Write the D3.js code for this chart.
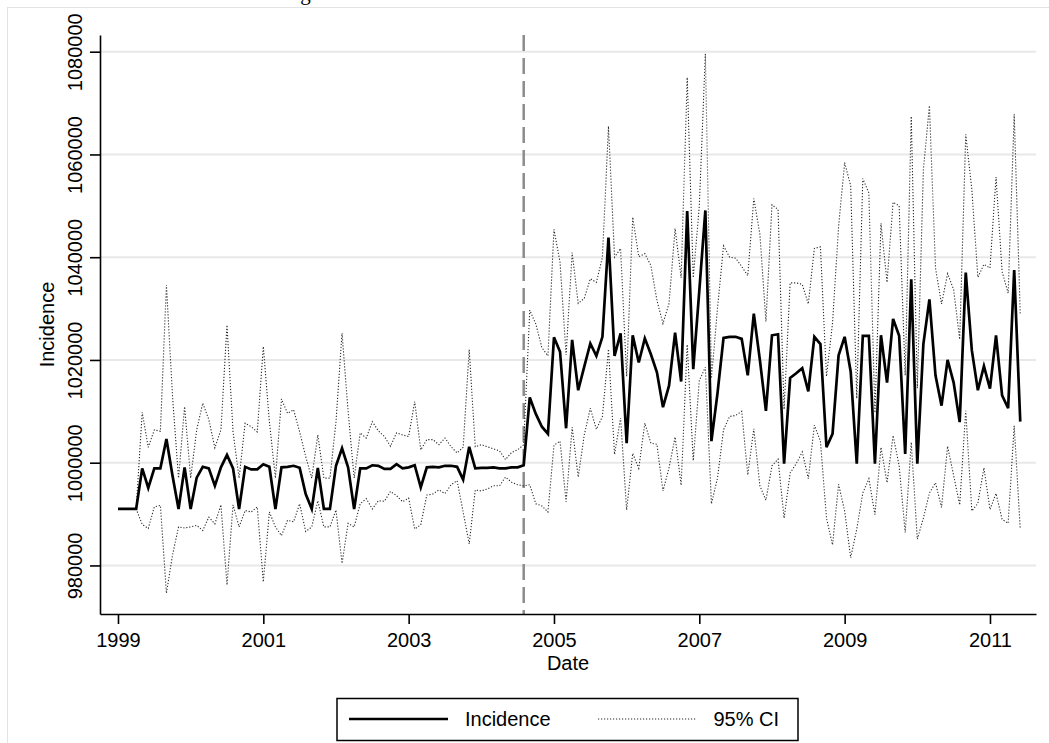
<!DOCTYPE html>
<html>
<head>
<meta charset="utf-8">
<script src="https://cdn.jsdelivr.net/npm/d3@7"></script>
<style>
  body { margin: 0; background: #fff; }
  svg { display: block; }
  svg text { font-family: "Liberation Sans", Arial, sans-serif; fill: #000; }
</style>
</head>
<body>
<div id="wrapper"></div>
<script>
// monthly series, Jan 1999 .. Jun 2011
const startYear = 1999
const interventionMonth = 67   // Aug 2004

const incidence = [
  991000, 991000, 991000, 991000, 998900, 995100, 998900, 998900, 1004600, 997500,
  991000, 999100, 991000, 997100, 999200, 998900, 995500, 999100, 1001500, 998900,
  991000, 999200, 998700, 998700, 999700, 999200, 991000, 999100, 999200, 999400,
  999000, 993900, 991000, 999000, 991000, 991000, 999400, 1002800, 999100, 991000,
  998900, 998900, 999500, 999400, 998800, 998800, 999700, 998900, 999100, 999500,
  995200, 999100, 999200, 999100, 999400, 999400, 999200, 996700, 1003100, 998900,
  999000, 999000, 999100, 998900, 998900, 999100, 999100, 999500, 1012700, 1009500,
  1007000, 1005600, 1024400, 1021600, 1006700, 1023900, 1014100, 1018700, 1023200, 1020800,
  1024500, 1043800, 1020800, 1025200, 1003800, 1024800, 1019500, 1024200, 1021100, 1017600,
  1010800, 1015000, 1025300, 1015800, 1049000, 1018200, 1033500, 1049100, 1004200, 1013500,
  1024300, 1024500, 1024500, 1024100, 1017000, 1029000, 1020000, 1010100, 1024800, 1025000,
  999800, 1016500, 1017400, 1018400, 1013900, 1024500, 1023100, 1003000, 1005600, 1020900,
  1024500, 1017700, 999800, 1024700, 1024700, 999800, 1024800, 1015600, 1028000, 1024700,
  1001700, 1035700, 999800, 1023100, 1031800, 1017000, 1011100, 1020000, 1015600, 1007900,
  1037000, 1021900, 1014100, 1018800, 1014400, 1024800, 1013100, 1010600, 1037500, 1008000
]

const ciUpper = [
  991000, 991000, 991000, 991000, 1009800, 1003000, 1006400, 1006100, 1034600, 1013000,
  997000, 1010900, 997000, 1006400, 1011600, 1008400, 1002900, 1006400, 1026800, 1006000,
  997000, 1007700, 1007000, 1006000, 1022600, 1008000, 997000, 1012400, 1009600, 1010300,
  1006000, 1001200, 997000, 1005400, 997000, 997000, 1008000, 1025200, 1010000, 997000,
  1005800, 1004800, 1008000, 1006200, 1005100, 1003200, 1005800, 1005400, 1005100, 1011900,
  1002500, 1004500, 1004500, 1003500, 1004800, 1003100, 1001900, 1003000, 1022000, 1003100,
  1003500, 1003100, 1002700, 1002300, 1000600, 1002000, 1002500, 1003500, 1029700, 1027000,
  1022400, 1020800, 1045400, 1039000, 1021000, 1040900, 1031000, 1032000, 1035800, 1035100,
  1040000, 1065500, 1040000, 1041700, 1016800, 1047800, 1040100, 1040700, 1038400, 1031600,
  1027100, 1031000, 1045600, 1036000, 1075000, 1036000, 1050000, 1079600, 1016400, 1030000,
  1042200, 1040000, 1039800, 1038200, 1036400, 1051400, 1044500, 1027500, 1050200, 1049300,
  1010400, 1035000, 1035000, 1034700, 1030900, 1041700, 1042000, 1016800, 1027200, 1046000,
  1058400, 1053900, 1012500, 1055300, 1052500, 1009700, 1046600, 1035100, 1050700, 1050000,
  1017000, 1067400, 1014500, 1057000, 1069500, 1037900, 1030900, 1036800, 1033700, 1024000,
  1063900, 1053200, 1036100, 1038600, 1037900, 1055600, 1037200, 1033000, 1067800, 1028900
]

const ciLower = [
  991000, 991000, 991000, 991000, 988000, 987200, 991400, 991700, 974600, 982000,
  987500, 987300, 987500, 987800, 986800, 989400, 988100, 991800, 976200, 991800,
  987500, 990700, 990400, 991400, 976800, 990400, 987500, 985800, 988800, 988500,
  992000, 986600, 987500, 992600, 987500, 987500, 990800, 980400, 988200, 987500,
  992000, 993000, 991000, 992600, 992500, 994400, 993600, 992400, 993100, 987100,
  987900, 993700, 993900, 994700, 994000, 995700, 996500, 990400, 984200, 994700,
  994500, 994900, 995500, 995500, 997200, 996200, 995700, 995500, 995700, 992000,
  991600, 990400, 1003400, 1004200, 992400, 1006900, 997200, 1005400, 1010600, 1006500,
  1009000, 1022100, 1001600, 1008700, 990800, 1001800, 998900, 1007700, 1003800, 1003600,
  994500, 999000, 1005000, 995600, 1023000, 1000400, 1016000, 1018600, 992000, 997000,
  1006400, 1009000, 1009200, 1010000, 997600, 1006600, 995500, 992700, 999400, 1000700,
  989200, 998000, 999800, 1002100, 996900, 1007300, 1004200, 989200, 984000, 995800,
  990600, 981500, 987100, 994100, 996900, 989900, 1003000, 996100, 1005300, 999400,
  986400, 1004000, 985100, 989200, 994100, 996100, 991300, 1003200, 997500, 991800,
  1010100, 990600, 992100, 999000, 990900, 994000, 989000, 988200, 1007200, 987100
]

const xTickYears = [1999, 2001, 2003, 2005, 2007, 2009, 2011]
const yTicks = [980000, 1000000, 1020000, 1040000, 1060000, 1080000]
const legendLabels = ["Incidence", "95% CI"]

async function drawChart() {
  const dataset = incidence.map((d, i) => ({
    month: i,
    incidence: d,
    upper: ciUpper[i],
    lower: ciLower[i]
  }))

  const xAccessor = d => d.month

  // chart dimensions
  let dimensions = {
    width: 1049,
    height: 743,
    margin: {
      top: 35,
      right: 13,
      bottom: 129,
      left: 100
    }
  }
  dimensions.boundedWidth = dimensions.width
    - dimensions.margin.left
    - dimensions.margin.right
  dimensions.boundedHeight = dimensions.height
    - dimensions.margin.top
    - dimensions.margin.bottom

  // canvas
  const wrapper = d3.select("#wrapper")
    .append("svg")
      .attr("width", dimensions.width)
      .attr("height", dimensions.height)

  // outer graph frame and the title, which sits mostly above the picture
  wrapper.append("rect")
    .attr("x", 7.5)
    .attr("y", 7.5)
    .attr("width", 1070)
    .attr("height", 770)
    .attr("fill", "none")
    .attr("stroke", "#e3e3e3")

  wrapper.append("text")
    .attr("x", 278)
    .attr("y", 0.3)
    .attr("textLength", 432)
    .style("font-family", "'Liberation Serif', serif")
    .style("font-size", "21px")
    .text("Figure 1: Predicted Incidence Over Time")

  const bounds = wrapper.append("g")
    .attr("transform", `translate(${dimensions.margin.left}, ${dimensions.margin.top})`)

  // scales (padding of the plot region)
  const xScale = d3.scaleLinear()
    .domain([-2.97, 151.6])
    .range([0, dimensions.boundedWidth])

  const yScale = d3.scaleLinear()
    .domain([970550, 1083250])
    .range([dimensions.boundedHeight, 0])

  // grid
  bounds.append("g")
    .selectAll("line")
    .data(yTicks)
    .join("line")
      .attr("x1", 0)
      .attr("x2", dimensions.boundedWidth)
      .attr("y1", d => yScale(d))
      .attr("y2", d => yScale(d))
      .attr("stroke", "#e8e8e8")
      .attr("stroke-width", 2)

  // intervention line
  bounds.append("line")
    .attr("x1", xScale(interventionMonth))
    .attr("x2", xScale(interventionMonth))
    .attr("y1", 0)
    .attr("y2", dimensions.boundedHeight)
    .attr("stroke", "#8c8c8c")
    .attr("stroke-width", 2.5)
    .attr("stroke-dasharray", "16,7")

  // data
  const seriesLine = key => d3.line()
    .x(d => xScale(xAccessor(d)))
    .y(d => yScale(d[key]))

  ;["upper", "lower"].forEach(key => {
    bounds.append("path")
      .datum(dataset)
      .attr("d", seriesLine(key))
      .attr("fill", "none")
      .attr("stroke", "#2a2a2a")
      .attr("stroke-width", 1.1)
      .attr("stroke-dasharray", "1.2,1.8")
  })

  bounds.append("path")
    .datum(dataset)
    .attr("d", seriesLine("incidence"))
    .attr("fill", "none")
    .attr("stroke", "#000")
    .attr("stroke-width", 2.7)

  // axes
  const xAxisGenerator = d3.axisBottom(xScale)
    .tickValues(xTickYears.map(y => (y - startYear) * 12))
    .tickFormat(m => startYear + m / 12)
    .tickSize(10)
    .tickSizeOuter(0)

  const xAxis = bounds.append("g")
    .attr("transform", `translate(0, ${dimensions.boundedHeight})`)
    .call(xAxisGenerator)
  xAxis.selectAll("path, line")
    .attr("stroke", "#000")
    .attr("stroke-width", 1.6)
  xAxis.selectAll("text")
    .attr("y", 32.7)
    .attr("dy", 0)
    .style("font-size", "20px")
    .style("font-family", "'Liberation Sans', Arial, sans-serif")

  const yAxisGenerator = d3.axisLeft(yScale)
    .tickValues(yTicks)
    .tickFormat(d3.format("d"))
    .tickSize(10)
    .tickSizeOuter(0)

  const yAxis = bounds.append("g")
    .call(yAxisGenerator)
  yAxis.selectAll("path, line")
    .attr("stroke", "#000")
    .attr("stroke-width", 1.6)
  yAxis.selectAll("text")
    .attr("transform", "rotate(-90)")
    .attr("x", 0)
    .attr("y", -18.5)
    .attr("dy", 0)
    .attr("text-anchor", "middle")
    .style("font-size", "20px")
    .style("font-family", "'Liberation Sans', Arial, sans-serif")

  // axis titles
  wrapper.append("text")
    .attr("transform", `translate(53.5, ${dimensions.margin.top + dimensions.boundedHeight / 2}) rotate(-90)`)
    .attr("text-anchor", "middle")
    .style("font-size", "20px")
    .text("Incidence")

  wrapper.append("text")
    .attr("x", dimensions.margin.left + dimensions.boundedWidth / 2)
    .attr("y", 670)
    .attr("text-anchor", "middle")
    .style("font-size", "20px")
    .text("Date")

  // legend
  const legend = wrapper.append("g")
  legend.append("rect")
    .attr("x", 337)
    .attr("y", 698.5)
    .attr("width", 461)
    .attr("height", 42)
    .attr("fill", "#fff")
    .attr("stroke", "#000")
    .attr("stroke-width", 1.5)

  legend.append("line")
    .attr("x1", 349).attr("x2", 448)
    .attr("y1", 719).attr("y2", 719)
    .attr("stroke", "#000")
    .attr("stroke-width", 2.7)
  legend.append("line")
    .attr("x1", 598).attr("x2", 696)
    .attr("y1", 719).attr("y2", 719)
    .attr("stroke", "#2a2a2a")
    .attr("stroke-width", 1.1)
    .attr("stroke-dasharray", "1.2,1.8")

  legend.selectAll("text.label")
    .data(legendLabels)
    .join("text")
      .attr("class", "label")
      .attr("x", (d, i) => [465, 713.5][i])
      .attr("y", 726)
      .style("font-size", "20px")
      .text(d => d)
}

drawChart()
</script>
</body>
</html>
